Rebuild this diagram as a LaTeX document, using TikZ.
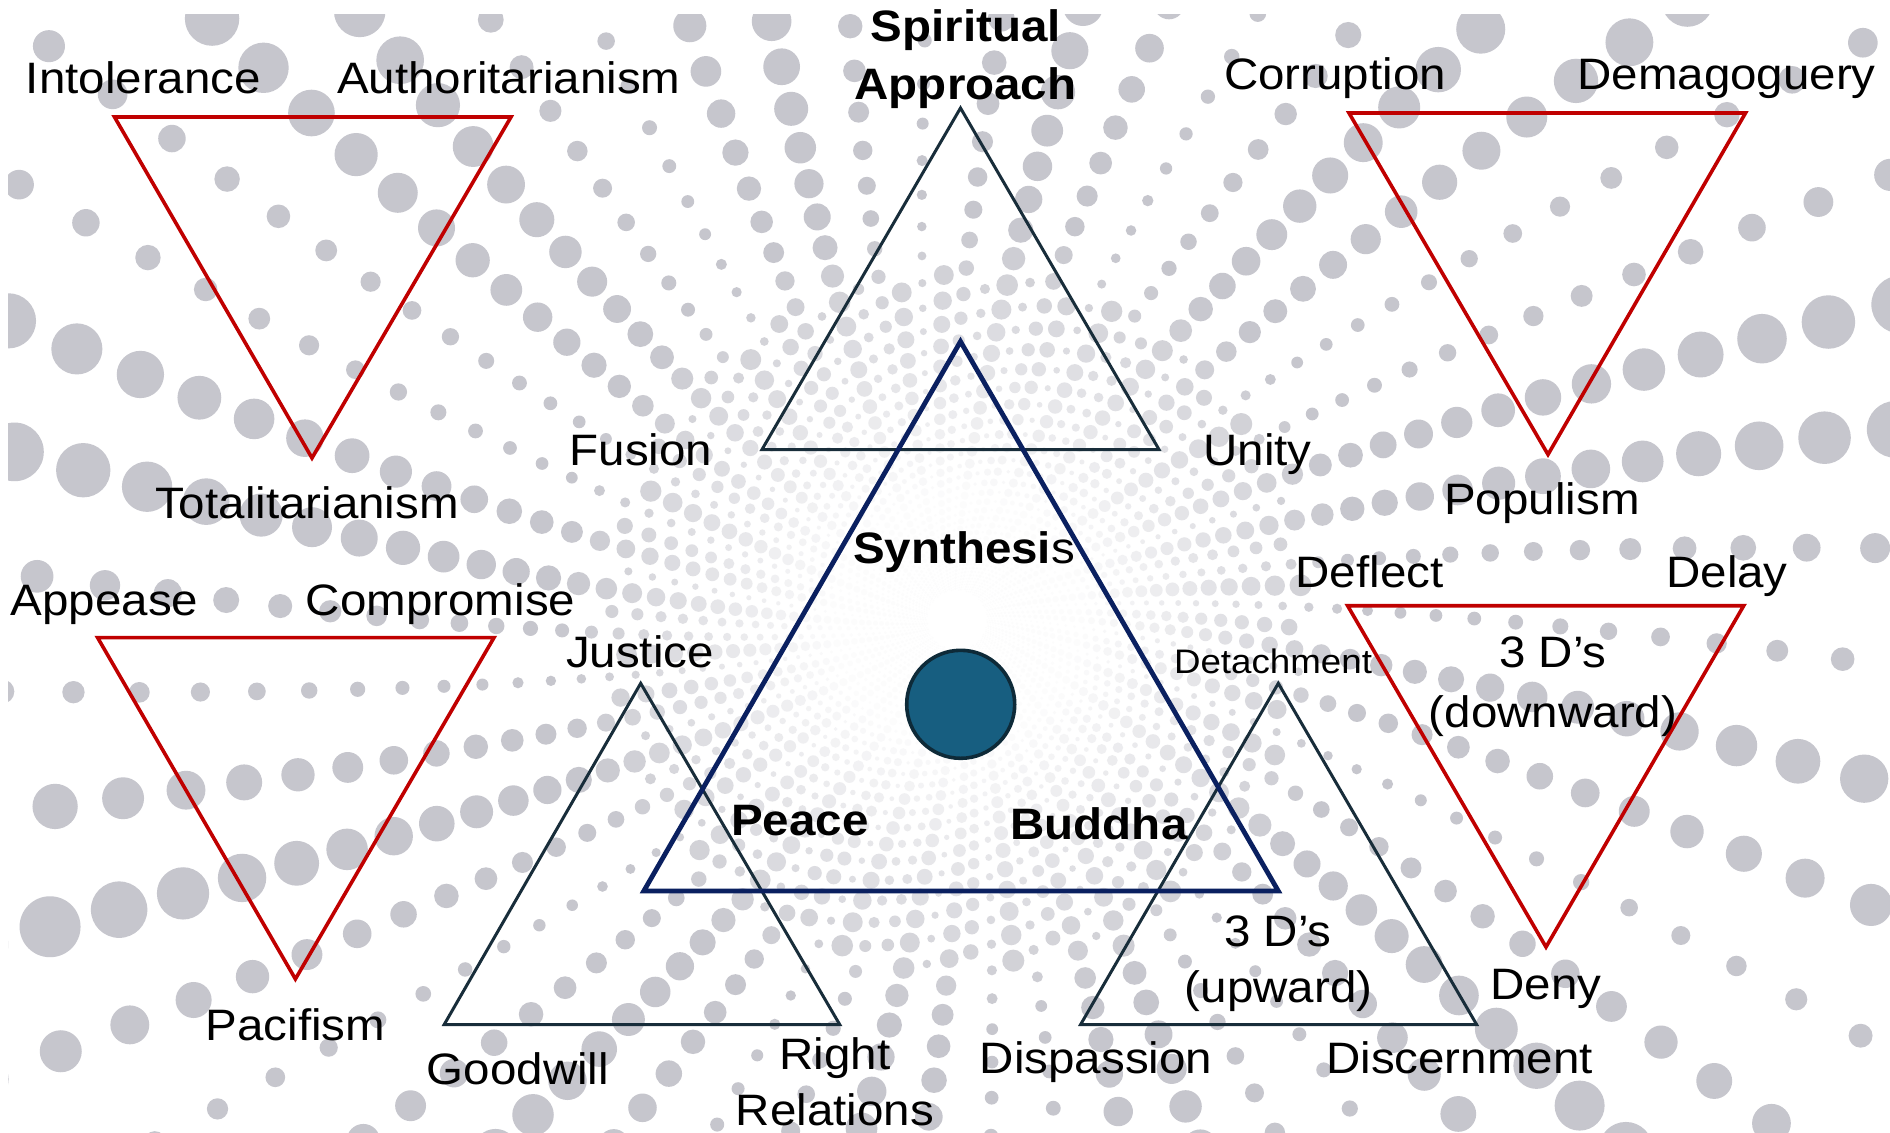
\documentclass[tikz,border=0pt]{standalone}
\usepackage{fontspec}
\setmainfont{Liberation Sans}[FakeStretch=1.08]
\definecolor{dotgray}{RGB}{198,198,205}
\definecolor{tred}{RGB}{192,0,0}
\definecolor{tslate}{RGB}{24,45,58}
\definecolor{tnavy}{RGB}{10,32,96}
\definecolor{orbfill}{RGB}{23,94,128}
\definecolor{orbline}{RGB}{14,42,56}
\begin{document}
\begin{tikzpicture}[x=0.5pt,y=-0.5pt,
  lbl/.style={inner sep=0pt, font=\fontsize{22}{26}\selectfont, text height=15.8pt, text depth=0pt},
  blbl/.style={inner sep=0pt, font=\fontsize{22}{26}\selectfont\bfseries, text height=15.8pt, text depth=0pt},
  slbl/.style={inner sep=0pt, font=\fontsize{17}{20}\selectfont, text height=12.2pt, text depth=0pt},
  redtri/.style={draw=tred, line width=1.8pt, line join=miter},
  slatetri/.style={draw=tslate, line width=1.5pt, line join=miter},
  navytri/.style={draw=tnavy, line width=2.4pt, line join=miter},
  orb/.style={circle, fill=orbfill, draw=orbline, line width=1.8pt, minimum size=54pt, inner sep=0pt}]
\useasboundingbox (0,0) rectangle (1890,1132);
\fill[white] (0,0) rectangle (1890,1132);
% background dots: rays from the centre, growing outwards
\begin{scope}
\clip (8,14) rectangle (1890,1132);
\foreach \k in {0,...,99} {
  \pgfmathsetmacro\ang{\k*3.6}
  \pgfmathtruncatemacro\nmax{mod(\k,2)==0 ? 48 : 31}
  \pgfmathsetmacro\sf{0.012+0.02*(0.5+0.5*sin(\k*137.5))}
  \pgfmathsetmacro\off{mod(\k,4)*0.25}
  \foreach \i in {0,...,\nmax} {
    \pgfmathsetmacro\r{30*1.08^(\i+\off)}
    \pgfmathsetmacro\tw{\ang+5*ln(\r/30)}
    \pgfmathsetmacro\op{min(1,max(0.05,(\r-110)/300))}
    \fill[dotgray,fill opacity=\op] (957,620) ++(\tw:\r) circle[radius=\sf*\r];
  }
}
\end{scope}
% coordinates
\coordinate (tlA) at (114.5,117);  \coordinate (tlB) at (511,117);    \coordinate (tlC) at (312,458);
\coordinate (trA) at (1349,113);   \coordinate (trB) at (1745.5,113); \coordinate (trC) at (1548,454.5);
\coordinate (mlA) at (97.6,637.6); \coordinate (mlB) at (494,637.6);  \coordinate (mlC) at (295.4,979);
\coordinate (mrA) at (1347.6,605.7); \coordinate (mrB) at (1743.7,605.7); \coordinate (mrC) at (1546,947);
\coordinate (spL) at (762,449.5);  \coordinate (spR) at (1159,449.5); \coordinate (spT) at (960.5,108);
\coordinate (jL) at (444.2,1024.5); \coordinate (jR) at (839.7,1024.5); \coordinate (jT) at (640.7,683.3);
\coordinate (dL) at (1080.6,1024.5); \coordinate (dR) at (1476.6,1024.5); \coordinate (dT) at (1278.3,683.3);
\coordinate (cL) at (643.8,891); \coordinate (cR) at (1278.3,891); \coordinate (cT) at (960.5,341.5);
% triangles
\draw[redtri] (tlA) -- (tlB) -- (tlC) -- cycle;
\draw[redtri] (trA) -- (trB) -- (trC) -- cycle;
\draw[redtri] (mlA) -- (mlB) -- (mlC) -- cycle;
\draw[redtri] (mrA) -- (mrB) -- (mrC) -- cycle;
\draw[slatetri] (spL) -- (spR) -- (spT) -- cycle;
\draw[slatetri] (jL) -- (jR) -- (jT) -- cycle;
\draw[slatetri] (dL) -- (dR) -- (dT) -- cycle;
\draw[navytri] (cL) -- (cR) -- (cT) -- cycle;
\node[orb] (orb) at (960.7,704.3) {};
% labels
\node[lbl] (intol) at (143.5,77.5) {Intolerance};
\node[lbl] (auth) at (508.8,77.5) {Authoritarianism};
\node[lbl] (total) at (307,502.5) {Totalitarianism};
\node[lbl] (corr) at (1335,74) {Corruption};
\node[lbl] (dema) at (1726.5,74) {Demagoguery};
\node[lbl] (popu) at (1542,499) {Populism};
\node[lbl] (appe) at (104.6,599.5) {Appease};
\node[lbl] (comp) at (440.6,599.5) {Compromise};
\node[lbl] (paci) at (295.5,1024.5) {Pacifism};
\node[blbl] (spir) at (966,26) {Spiritual};
\node[blbl] (appr) at (965.5,84) {Approach};
\node[lbl] (fusi) at (641,449.5) {Fusion};
\node[lbl] (unit) at (1257.6,449.5) {Unity};
\node[lbl] (synt) at (964,548) {\textbf{Synthesi}s};
\node[blbl] (peac) at (800,820) {Peace};
\node[blbl] (budd) at (1099,824) {Buddha};
\node[lbl] (just) at (640,652) {Justice};
\node[lbl] (good) at (518,1069) {Goodwill};
\node[lbl] (righ) at (835,1053.5) {Right};
\node[lbl] (rela) at (835,1109.6) {Relations};
\node[slbl] (deta) at (1273,661) {Detachment};
\node[lbl] (defl) at (1369.5,571.5) {Deflect};
\node[lbl] (dela) at (1727,571.5) {Delay};
\node[lbl] (dds) at (1553,651.4) {3 D’s};
\node[lbl] (down) at (1553,712) {(downward)};
\node[lbl] (deny) at (1546,984) {Deny};
\node[lbl] (uds) at (1278,930.6) {3 D’s};
\node[lbl] (upw) at (1278.6,987) {(upward)};
\node[lbl] (disp) at (1096,1057.5) {Dispassion};
\node[lbl] (disc) at (1459.5,1057.5) {Discernment};
\end{tikzpicture}
\end{document}
